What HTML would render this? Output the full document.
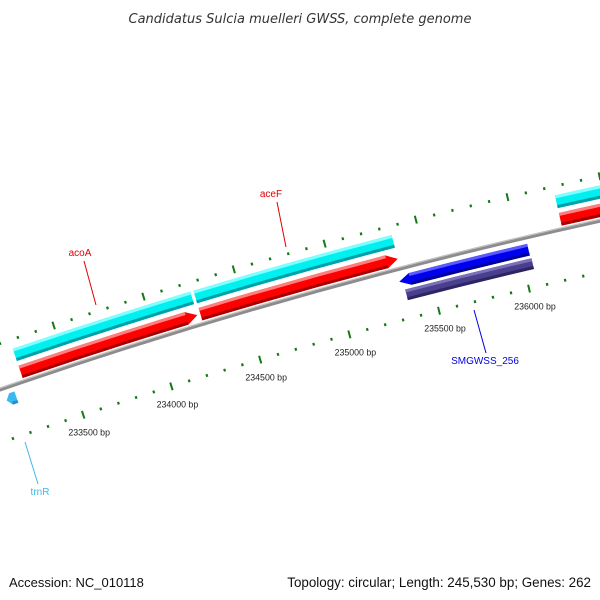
<!DOCTYPE html>
<html><head><meta charset="utf-8"><style>
body{margin:0;background:#fff}
svg{display:block;font-family:"Liberation Sans",sans-serif}
</style></head><body>
<svg id="map" width="600" height="600" viewBox="0 0 600 600" xmlns="http://www.w3.org/2000/svg">
<text x="300" y="23" text-anchor="middle" font-size="13" font-style="italic" fill="#333" font-family="DejaVu Sans, sans-serif">Candidatus Sulcia muelleri GWSS, complete genome</text>
<g id="layer"></g>
<text x="9" y="587" font-size="13" fill="#111">Accession: NC_010118</text>
<text x="591" y="587" text-anchor="end" font-size="13.4" fill="#111">Topology: circular; Length: 245,530 bp; Genes: 262</text>
</svg>
<script>
// data
const fwdGeneNames = ["acoA", "aceF", "next-gene"];
const fwdGeneStarts = [233255, 234262, 236247];
const fwdGeneEnds = [234245, 235355, 237500];
const revGeneNames = ["SMGWSS_256", "trnR"];
const revGeneStarts = [235332, 233135];
const revGeneEnds = [236045, 233190];
const tickLabels = [233500, 234000, 234500, 235000, 235500, 236000];

const CX = 1738, CY = 5415;
const PHI0 = -0.2844, K = 3.52e-5, BP0 = 234500;
const NS = "http://www.w3.org/2000/svg";
const layer = document.getElementById('layer');
function phi(bp){ return PHI0 + (bp - BP0) * K; }
function pt(r, bp){ const a = phi(bp); return [CX + r*Math.sin(a), CY - r*Math.cos(a)]; }
function f(p){ return p[0].toFixed(2)+","+p[1].toFixed(2); }
function band(r1, r2, b1, b2){
  const a=pt(r2,b1), b=pt(r2,b2), c=pt(r1,b2), d=pt(r1,b1);
  return "M"+f(a)+" A"+r2+","+r2+" 0 0 1 "+f(b)+" L"+f(c)+" A"+r1+","+r1+" 0 0 0 "+f(d)+" Z";
}
function add(tag, attrs, name, parent){
  const el = document.createElementNS(NS, tag);
  for (const k in attrs) el.setAttribute(k, attrs[k]);
  
  
  (parent||layer).appendChild(el);
  return el;
}
function arrow(r1, r2, b1, b2, dir, headBp){
  const rm=(r1+r2)/2;
  if(dir>0){
    const e=b2-headBp;
    const a=pt(r2,b1), b=pt(r2,e), t=pt(rm,b2), c=pt(r1,e), d=pt(r1,b1);
    return "M"+f(a)+" A"+r2+","+r2+" 0 0 1 "+f(b)+" L"+f(t)+" L"+f(c)+" A"+r1+","+r1+" 0 0 0 "+f(d)+" Z";
  } else {
    const s=b1+headBp;
    const a=pt(r2,s), b=pt(r2,b2), c=pt(r1,b2), d=pt(r1,s), t=pt(rm,b1);
    return "M"+f(a)+" A"+r2+","+r2+" 0 0 1 "+f(b)+" L"+f(c)+" A"+r1+","+r1+" 0 0 0 "+f(d)+" L"+f(t)+" Z";
  }
}
function shaded(r1, r2, b1, b2, dir, cols, name){
  const g = add('g', {}, name);
  const p = dir===0 ? band(r1,r2,b1,b2) : arrow(r1,r2,b1,b2,dir,60);
  add('path',{d:p,fill:cols[1]}, name+'-body', g);
  add('path',{d:band(r2-3,r2,b1+(dir<0?60:0),b2-(dir>0?60:0)),fill:cols[0]}, name+'-highlight', g);
  add('path',{d:band(r1,r1+3,b1+(dir<0?60:0),b2-(dir>0?60:0)),fill:cols[2]}, name+'-shadow', g);
}
add('path',{d:band(5315.5,5319.5,232600,237600),fill:"#8c8c8c"},'backbone');
add('path',{d:band(5318.3,5319.5,232600,237600),fill:"#c4c4c4"},'backbone-highlight');
function ticks(r, ring){
  for(let bp=232800; bp<=237400; bp+=100){
    const major = bp%500===0;
    const h = major?4:1.4;
    const p1 = pt(r-h,bp), p2 = pt(r+h,bp);
    add('line',{x1:p1[0],y1:p1[1],x2:p2[0],y2:p2[1],stroke:"#147a14","stroke-width":major?2:2.2},ring+'-tick-'+bp);
  }
}
ticks(5267,'inner');
ticks(5361,'outer');
tickLabels.forEach(bp=>{
  const p = pt(5267,bp);
  const t = add('text',{x:p[0]+6,y:p[1]+21,"text-anchor":"middle","font-size":"8.8",fill:"#222"},'tick-label-'+bp);
  t.textContent = bp+" bp";
});
for(let i=0;i<fwdGeneStarts.length;i++){
  shaded(5339,5352,fwdGeneStarts[i],fwdGeneEnds[i],0,["#7fffff","#00f0f0","#00a0a8"],'gene-track-'+fwdGeneNames[i]);
  shaded(5321,5334,fwdGeneStarts[i],fwdGeneEnds[i],1,["#ff7f7f","#ff0000","#a80000"],'cds-'+fwdGeneNames[i]);
}
shaded(5299,5311,revGeneStarts[0],revGeneEnds[0],-1,["#5a5aff","#0000f0","#00009a"],'cds-'+revGeneNames[0]);
shaded(5285,5296,revGeneStarts[0]+20,revGeneEnds[0]+5,0,["#7a70b8","#4a3f8f","#2c2560"],'gene-track-'+revGeneNames[0]);
{
  const g = add('g',{},'trnR-feature');
  add('path',{d:arrow(5299,5311,revGeneStarts[1],revGeneEnds[1],-1,25),fill:"#3ab8f0"},'trnR-body',g);
  add('path',{d:band(5299,5302,revGeneStarts[1]+25,revGeneEnds[1]),fill:"#2090c8"},'trnR-shadow',g);
}
const labels = [
  {t:"acoA", x:80, y:256, lx1:84, ly1:261, lx2:96, ly2:305, c:"#e00000"},
  {t:"aceF", x:271, y:197, lx1:277, ly1:202, lx2:286, ly2:247, c:"#e00000"},
  {t:"SMGWSS_256", x:485, y:364, lx1:474, ly1:310, lx2:486, ly2:353, c:"#0000e0"},
  {t:"trnR", x:40, y:495, lx1:25, ly1:442, lx2:38, ly2:484, c:"#40b8e8"}
];
labels.forEach(l=>{
  add('line',{x1:l.lx1,y1:l.ly1,x2:l.lx2,y2:l.ly2,stroke:l.c,"stroke-width":1},'label-line-'+l.t);
  const t = add('text',{x:l.x,y:l.y,"text-anchor":"middle","font-size":"10",fill:l.c},'label-'+l.t);
  t.textContent = l.t;
});
</script>
</body></html>
